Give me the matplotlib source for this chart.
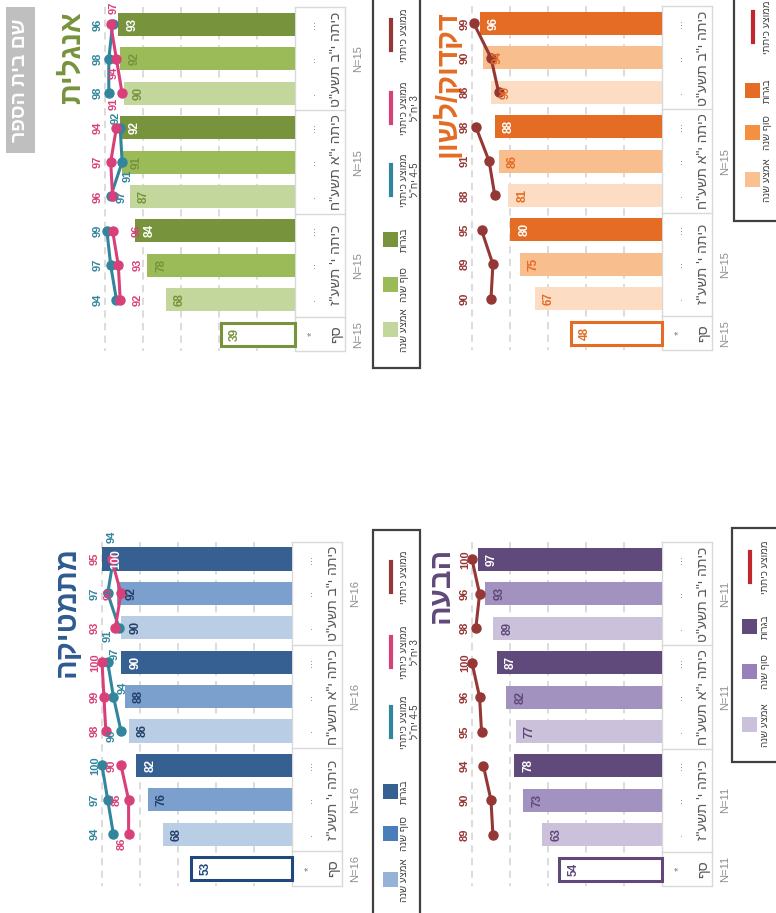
import re
import matplotlib
matplotlib.use("Agg")
import matplotlib.pyplot as plt
from matplotlib.patches import Rectangle

plt.rcParams['font.family'] = ['Liberation Sans', 'DejaVu Sans']

# ---- data -------------------------------------------------------------
GROUPS = ['כיתה י"ב תשע"ט', 'כיתה י"א תשע"ח', 'כיתה י\' תשע"ז']
THRESHOLD_LABEL = 'סף'
ROW_MARKS = ['...', '..', '.']
BAR_KINDS = ['אמצע שנה', 'סוף שנה', 'בגרות']

english_bars = [93, 92, 90, 92, 91, 87, 84, 78, 68]
english_threshold = 39
english_teal = [96, 98, 98, 92, 91, 97, 99, 97, 94]
english_pink = [97, 94, 91, 94, 97, 96, 96, 93, 92]
english_n = [15, 15, 15, 15]

math_bars = [100, 92, 90, 90, 88, 86, 82, 76, 68]
math_threshold = 53
math_teal = [94, 97, 91, 97, 94, 90, 100, 97, 94]
math_pink = [95, 90, 93, 100, 99, 98, 90, 86, 86]
math_n = [16, 16, 16, 16]

grammar_bars = [96, 94, 90, 88, 86, 81, 80, 75, 67]
grammar_threshold = 48
grammar_class = [99, 90, 86, 98, 91, 88, 95, 89, 90]
grammar_n = [None, 15, 15, 15]

expression_bars = [97, 93, 89, 87, 82, 77, 78, 73, 63]
expression_threshold = 54
expression_class = [100, 96, 98, 100, 96, 95, 94, 90, 89]
expression_n = [11, 11, 11, 11]

# label placement hints (style only): 'L' = fixed column above the bars,
# otherwise a pixel nudge (dx, dy) from the point
SIDES = {
    'english_teal': ['L', 'L', 'L', (-5, -10), (6, 14), (11, 0), 'L', 'L', 'L'],
    'english_pink': [(3, -17), (-3, 14), (-8, 11), 'L', 'L', 'L', (24, 0), (19, 0), (17, 0)],
    'math_teal': [(-2, -22), 'L', (-11, 8), (7, -8), (9, -9), (-9, 5), 'L', 'L', 'L'],
    'math_pink': ['L', (-12, 0), 'L', 'L', 'L', 'L', (-9, 0), (-12, 0), (-7, 10)],
    'all_left': ['L'] * 9,
}

TEAL, PINK, DARKRED, RED = '#31859c', '#d9407a', '#953735', '#c3262d'

W, H = 776, 913
PX = 1.9      # pixels per value unit
ROW = 34.4    # pixels per bar row


def heb(s):
    """Hebrew logical order -> visual order (matplotlib has no bidi)."""
    out = []
    for line in s.split('\n'):
        r = line[::-1]
        out.append(re.sub(r'[0-9A-Za-z=\-]+', lambda m: m.group(0)[::-1], r))
    return '\n'.join(out)


fig = plt.figure(figsize=(W / 100, H / 100), dpi=100)
bg = fig.add_axes([0, 0, 1, 1])
bg.set_xlim(0, W)
bg.set_ylim(H, 0)
bg.axis('off')


def label_xy(v, r, side):
    if side == 'L':
        return 103.7, r
    dx, dy = side
    return v - dx / PX, r + dy / ROW


def draw_panel(bx, ry, title, title_x, title_col, bars, thr, series, n_vals,
               colors, txt_col, edge_col):
    left = bx - 112 * PX
    top = ry - 0.5 * ROW
    ax = fig.add_axes([left / W, 1 - (top + 10 * ROW) / H, 148 * PX / W, 10 * ROW / H])
    ax.set_xlim(112, -36)
    ax.set_ylim(9.5, -0.5)
    ax.axis('off')

    rows = list(range(9))
    for x in (20, 40, 60, 80, 100):
        ax.plot([x, x], [-0.5, 9.5], ls=(0, (4, 3)), color='#d9d9d9', lw=1.3, zorder=0)

    ax.barh(rows, bars, height=0.67, color=[colors[r % 3] for r in rows], zorder=2)
    ax.barh(9, thr, height=0.67, facecolor='white', edgecolor=edge_col, lw=2.2, zorder=2)
    for r, v in enumerate(bars):
        c = 'white' if r % 3 == 0 else txt_col
        ax.text(v - 7.5, r, str(v), rotation=90, ha='center', va='center',
                fontsize=8.5, fontweight='bold', color=c, zorder=5)
    ax.text(thr - 7.5, 9, str(thr), rotation=90, ha='center', va='center',
            fontsize=8.5, fontweight='bold', color=edge_col, zorder=5)

    for vals, lc, sides in series:
        for g in range(3):
            ax.plot(vals[3 * g:3 * g + 3], rows[3 * g:3 * g + 3], '-o', color=lc,
                    lw=2.2, ms=6.5, zorder=4, clip_on=False)
        for r, (v, s) in enumerate(zip(vals, sides)):
            x, y = label_xy(v, r, s)
            ax.text(x, y, str(v), rotation=90, ha='center', va='center', fontsize=8,
                    fontweight='bold', color=lc, zorder=6, clip_on=False)

    # table under the bars
    tc = '#d9d9d9'
    ax.plot([0, 0], [-0.5, 9.5], color=tc, lw=1, zorder=1)
    ax.plot([-26.5, -26.5], [-0.5, 9.5], color=tc, lw=1, zorder=1)
    for yb in (-0.5, 2.5, 5.5, 8.5, 9.5):
        ax.plot([0, -26.5], [yb, yb], color=tc, lw=1, zorder=1, clip_on=False)
    for r in rows:
        ax.text(-9, r, ROW_MARKS[r % 3], rotation=90, ha='center', va='center',
                fontsize=8, color='#7f7f7f')
    ax.text(-9, 9, '*', rotation=90, ha='center', va='center', fontsize=8, color='#7f7f7f')
    for g, name in enumerate(GROUPS):
        ax.text(-21.5, 3 * g + 1, heb(name), rotation=90, ha='center', va='center',
                fontsize=10, color='#595959')
    ax.text(-21.5, 9, heb(THRESHOLD_LABEL), rotation=90, ha='center', va='center',
            fontsize=10, color='#595959')
    for yc, n in zip([1, 4, 7, 9], n_vals):
        if n is not None:
            ax.text(-33, yc, f'N={n}', rotation=90, ha='center', va='center',
                    fontsize=8, color='#8c8c8c', clip_on=False)

    bg.text(title_x, ry - 13, heb(title), rotation=90, ha='center', va='top',
            fontsize=21, fontweight='bold', color=title_col)


draw_panel(295, 24.5, 'אנגלית', 72, '#77933c', english_bars, english_threshold,
           [(english_teal, TEAL, SIDES['english_teal']),
            (english_pink, PINK, SIDES['english_pink'])],
           english_n, ['#77933c', '#9bbb59', '#c3d69b'], '#77933c', '#77933c')

draw_panel(292, 559, 'מתמטיקה', 67, '#2f5a90', math_bars, math_threshold,
           [(math_teal, TEAL, SIDES['math_teal']),
            (math_pink, PINK, SIDES['math_pink'])],
           math_n, ['#376092', '#7ba0cd', '#b9cde5'], '#24406a', '#1f497d')

draw_panel(662, 23.5, 'דקדוק/לשון', 447, '#e46c24', grammar_bars, grammar_threshold,
           [(grammar_class, DARKRED, SIDES['all_left'])],
           grammar_n, ['#e46c24', '#f9be8e', '#fcdcc3'], '#e46c24', '#e46c24')

draw_panel(662, 559.5, 'הבעה', 441, '#60497a', expression_bars, expression_threshold,
           [(expression_class, DARKRED, SIDES['all_left'])],
           expression_n, ['#604a7b', '#a292bf', '#ccc1da'], '#60497a', '#60497a')

# ---- school name box ---------------------------------------------------
bg.add_patch(Rectangle((6, 7), 29, 146, facecolor='#bfbfbf', edgecolor='none'))
bg.text(20.5, 80, heb('שם בית הספר'), rotation=90, ha='center', va='center',
        fontsize=14, fontweight='bold', color='white')


# ---- legends -----------------------------------------------------------
def draw_legend(box, sx, lx, swatches, lines):
    x0, y0, x1, y1 = box
    bg.add_patch(Rectangle((x0, y0), x1 - x0, y1 - y0, facecolor='white',
                           edgecolor='#404040', lw=1.6, zorder=1))
    for label, col, y in swatches:
        bg.add_patch(Rectangle((sx, y - 7.5), 15, 15, facecolor=col, edgecolor='none', zorder=2))
        bg.text(lx, y, heb(label), rotation=90, ha='left', va='center', fontsize=7,
                color='#404040', zorder=3)
    for label, col, y in lines:
        bg.plot([sx + 7.5, sx + 7.5], [y - 15, y + 15], color=col, lw=3, zorder=2)
        bg.text(lx, y, heb(label), rotation=90, ha='left', va='center', fontsize=7,
                color='#404040', zorder=3, multialignment='center', linespacing=1.1)


line_labels = ['ממוצע כיתתי\n4-5 יח"ל', 'ממוצע כיתתי\n3 יח"ל', 'ממוצע כיתתי']

draw_legend((373, -15, 420, 368), 383, 399,
            list(zip(BAR_KINDS, ['#c3d69b', '#9bbb59', '#77933c'], [330, 285, 240])),
            list(zip(line_labels, [TEAL, PINK, DARKRED], [180, 108, 35])))
draw_legend((373, 530, 420, 925), 383, 399,
            list(zip(BAR_KINDS, ['#95b3d7', '#4a7ebb', '#376092'], [880, 834, 792])),
            list(zip(line_labels, [TEAL, PINK, DARKRED], [722, 652, 577])))
draw_legend((734, -15, 790, 221), 745, 762,
            list(zip(BAR_KINDS, ['#fac090', '#f59040', '#e46c24'], [180, 133, 91])),
            [(line_labels[2], RED, 27)])
draw_legend((732, 528, 790, 762), 742, 760,
            list(zip(BAR_KINDS, ['#ccc1da', '#9a80ba', '#604a7b'], [725, 672, 627])),
            [(line_labels[2], RED, 567)])

fig.savefig('out.png', dpi=100)
